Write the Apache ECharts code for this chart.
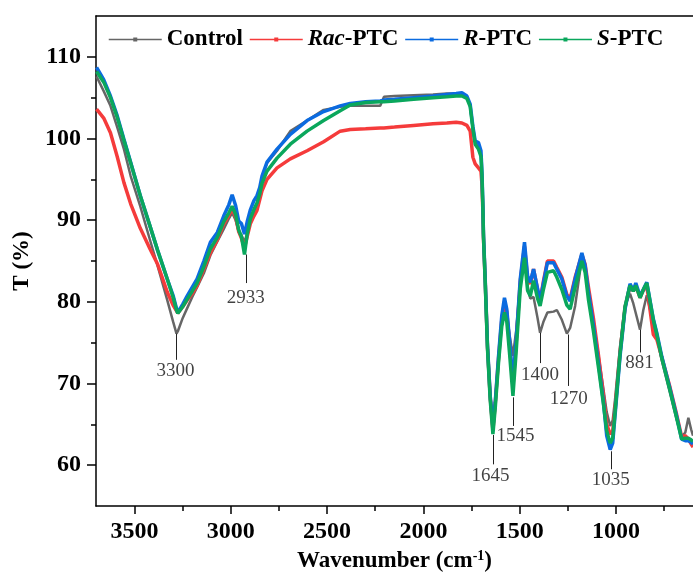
<!DOCTYPE html>
<html>
<head>
<meta charset="utf-8">
<script src="https://cdn.jsdelivr.net/npm/echarts@6/dist/echarts.min.js"></script>
<style>
html,body{margin:0;padding:0;background:#fff;}
#chart{width:693px;height:574px;}
</style>
</head>
<body>
<div id="chart"></div>
<script>
// wavenumber grid (cm-1), shared by all four spectra
var wn = [3697,3660,3625,3590,3555,3520,3470,3420,3380,3330,
  3300,3282,3275,3250,3227,3200,3175,3140,3106,3070,
  3037,3010,2993,2975,2959,2945,2929,2915,2898,2880,
  2864,2850,2838,2812,2760,2691,2604,2518,2432,2380,
  2300,2224,2205,2150,2051,1950,1878,1830,1800,1774,
  1757,1743,1731,1714,1701,1696,1691,1688,1679,1667,
  1653,1639,1627,1610,1593,1579,1567,1553,1535,1518,
  1497,1475,1459,1445,1428,1407,1394,1376,1356,1324,
  1307,1281,1255,1238,1212,1177,1160,1143,1117,1091,
  1065,1048,1030,1017,1005,979,953,927,910,897,
  875,858,840,806,788,762,719,685,659,640,
  624,610,600];

var control = [107.6,105.8,104.0,101.4,98.7,95.4,91.7,87.6,84.4,80.2,
  77.6,76.1,76.4,78.0,79.2,80.6,81.8,83.5,85.7,87.4,
  88.9,90.2,90.9,90.0,88.6,88.2,87.3,88.4,90.0,91.0,
  92.0,93.8,95.2,97.0,98.5,100.9,102.2,103.5,103.9,104.0,
  104.0,104.0,105.1,105.2,105.3,105.4,105.5,105.5,105.4,105.0,
  104.0,101.0,99.5,98.9,98.0,95.6,91.5,88.0,82.8,74.8,
  68.8,65.2,67.8,73.0,77.6,79.6,78.6,76.0,73.4,76.5,
  82.4,86.3,82.0,80.4,80.6,78.0,76.2,77.6,78.7,78.8,
  79.0,77.8,76.1,76.8,79.5,85.4,84.2,81.4,77.6,73.5,
  69.3,66.5,64.8,65.5,68.0,74.5,79.6,81.0,79.8,78.6,
  76.6,79.0,80.8,77.3,75.8,72.8,68.8,65.6,63.5,64.0,
  65.8,64.4,63.6];

var racPTC = [103.6,102.5,100.7,97.8,94.6,92.0,89.0,86.5,84.6,81.2,
  79.6,78.9,78.6,79.4,80.2,81.0,82.0,84.0,86.0,87.6,
  89.5,90.6,91.4,90.4,88.6,87.8,86.6,88.0,89.6,90.5,
  91.2,92.5,93.6,95.0,96.4,97.5,98.5,99.6,100.9,101.1,
  101.2,101.3,101.3,101.4,101.6,101.8,101.9,102.0,101.9,101.6,
  100.9,97.7,96.9,96.4,96.0,94.4,91.0,87.8,82.6,74.4,
  68.3,64.3,67.5,73.0,77.8,80.0,78.8,75.0,69.6,75.0,
  82.5,86.8,82.8,82.2,84.0,81.5,80.2,82.6,85.0,85.0,
  84.2,83.0,80.9,80.4,83.0,85.8,84.6,81.8,78.0,73.5,
  68.5,65.0,63.8,64.2,66.8,73.8,79.3,82.0,81.3,82.0,
  80.5,81.4,82.0,76.0,75.4,73.2,69.5,66.2,63.5,63.6,
  63.2,62.6,62.2];

var rPTC = [108.7,107.2,105.2,102.8,99.9,97.1,93.0,89.3,86.3,82.8,
  80.8,79.2,78.7,79.7,80.7,81.8,82.8,85.0,87.3,88.5,
  90.5,91.9,93.1,91.8,89.9,89.6,88.3,89.8,91.3,92.4,
  93.0,94.0,95.4,97.1,98.7,100.5,102.2,103.3,104.0,104.3,
  104.5,104.6,104.7,104.8,105.0,105.2,105.4,105.5,105.6,105.2,
  104.2,101.5,99.7,99.5,98.5,96.0,91.9,88.3,82.8,74.6,
  68.5,64.6,67.7,73.3,78.3,80.5,79.1,75.4,70.1,75.4,
  82.8,87.3,83.2,82.4,84.0,81.6,80.1,82.4,84.8,84.8,
  84.0,82.8,80.7,80.1,82.8,86.0,84.4,81.2,77.1,72.5,
  67.7,63.6,61.9,62.7,66.0,73.3,79.1,82.2,81.4,82.3,
  80.7,81.5,82.4,77.9,76.2,73.3,69.3,66.0,63.2,63.0,
  63.0,62.8,62.6];

var sPTC = [108.2,106.9,105.0,102.6,99.8,97.0,93.0,89.3,86.3,82.8,
  80.6,79.0,78.6,79.4,80.3,81.3,82.3,84.3,86.5,87.9,
  89.8,90.9,91.7,90.7,88.8,88.0,85.8,88.3,90.2,91.3,
  92.1,93.2,94.5,96.0,97.6,99.3,100.9,102.2,103.4,104.1,
  104.4,104.5,104.5,104.6,104.8,105.0,105.1,105.2,105.2,104.9,
  103.9,101.2,99.3,98.7,97.8,95.6,91.5,88.0,82.4,74.2,
  68.0,63.8,67.0,72.5,77.0,78.7,77.6,73.8,68.5,74.0,
  81.6,85.4,81.4,80.7,82.6,80.4,79.5,81.6,83.6,83.8,
  83.0,81.5,79.6,79.1,81.8,85.0,83.6,80.3,76.4,72.0,
  67.5,64.2,62.7,63.3,66.4,73.6,79.4,82.0,81.3,82.0,
  80.5,81.5,82.3,77.8,76.0,73.1,69.1,65.8,63.2,63.3,
  63.3,63.1,62.9];

// peak annotations
var annoLabels = ['3300','2933','1645','1545','1400','1270','1035','881'];
var annoLineX = [3282,2922,1636,1535,1394,1247,1027,875];
var annoLineTop = [76.1,85.8,63.7,68.3,76.2,76.0,61.7,76.6];
var annoLineBottom = [72.9,82.3,60.1,64.8,72.5,69.7,59.5,73.8];
var annoTextX = [3287,2922,1651,1522,1394,1245,1027,878];
var annoTextY = [71.5,80.5,58.7,63.6,71.1,68.1,58.2,72.5];

var xMajor = [1000,1500,2000,2500,3000,3500];
var xMinor = [750,1250,1750,2250,2750,3250];
var yMajor = [60,70,80,90,100,110];
var yMinor = [65,75,85,95,105];

var names = ['Control','Rac-PTC','R-PTC','S-PTC'];
var colors = ['#666666','#f53b3b','#0b6be0','#0aa75c'];
var values = [control, racPTC, rPTC, sPTC];

var FONT = 'Liberation Serif';

function pairs(ys){
  var out=[];
  for(var i=0;i<wn.length;i++){ out.push([wn[i], ys[i]]); }
  return out;
}

var series=[];
for(var k=0;k<4;k++){
  series.push({
    name: names[k],
    type: 'line',
    data: pairs(values[k]),
    symbol: 'rect',
    symbolSize: 3,
    showSymbol: false,
    lineStyle: {color: colors[k], width: k==0 ? 2.5 : 3.5},
    itemStyle: {color: colors[k]},
    z: 2+k
  });
}

var annoLines=[];
var annoText=[];
for(var i=0;i<annoLabels.length;i++){
  annoLines.push([{coord:[annoLineX[i], annoLineTop[i]]},{coord:[annoLineX[i], annoLineBottom[i]]}]);
  annoText.push({name: annoLabels[i], value:[annoTextX[i], annoTextY[i]]});
}
series.push({
  type: 'line',
  data: [],
  silent: true,
  markLine: {
    silent: true,
    symbol: 'none',
    animation: false,
    label: {show: false},
    lineStyle: {color: '#222', width: 1, type: 'solid'},
    data: annoLines
  },
  z: 10
});
series.push({
  type: 'scatter',
  data: annoText,
  symbolSize: 1,
  itemStyle: {color: 'rgba(255,255,255,0)'},
  silent: true,
  label: {
    show: true,
    position: 'inside',
    formatter: '{b}',
    fontFamily: FONT,
    fontSize: 19,
    color: '#111'
  },
  z: 10
});

var chart = echarts.init(document.getElementById('chart'));
var option = {
  animation: false,
  backgroundColor: '#fff',
  grid: {left: 96, right: 0, top: 16, bottom: 68, outerBoundsMode: 'none'},
  legend: {
    data: names,
    left: 103,
    top: 23,
    itemWidth: 53,
    itemHeight: 5,
    itemGap: 6,
    lineStyle: {width: 1.5},
    textStyle: {
      fontFamily: FONT, fontSize: 23, fontWeight: 'bold', color: '#000',
      rich: {
        i: {fontFamily: FONT, fontSize: 23, fontWeight: 'bold', fontStyle: 'italic', color: '#000'},
        n: {fontFamily: FONT, fontSize: 23, fontWeight: 'bold', color: '#000'}
      }
    },
    formatter: function(name){
      if(name=='Control') return '{n|Control}';
      var p = name.split('-');
      return '{i|'+p[0]+'}{n|-'+p[1]+'}';
    }
  },
  xAxis: [{
    type: 'value',
    min: 600, max: 3700,
    inverse: true,
    position: 'bottom',
    splitLine: {show: false},
    axisLine: {show: true, onZero: false, lineStyle: {color: '#000', width: 1.5}},
    axisTick: {show: true, length: 8, customValues: xMajor, lineStyle: {color: '#000', width: 1.5}},
    axisLabel: {customValues: xMajor, margin: 14, formatter: function(v){return String(v);}, fontFamily: FONT, fontSize: 24, fontWeight: 'bold', color: '#000'},
    name: '{a|Wavenumber (cm}{s|-1}{a|)}',
    nameLocation: 'middle',
    nameGap: 28,
    nameTextStyle: {
      rich: {
        a: {fontFamily: FONT, fontSize: 23, fontWeight: 'bold', color: '#000'},
        s: {fontFamily: FONT, fontSize: 14, fontWeight: 'bold', color: '#000', verticalAlign: 'top', padding: [0,0,10,0]}
      }
    }
  },{
    type: 'value',
    min: 600, max: 3700,
    inverse: true,
    position: 'bottom',
    splitLine: {show: false},
    axisLine: {show: false, onZero: false},
    axisTick: {show: true, length: 5, customValues: xMinor, lineStyle: {color: '#000', width: 1.5}},
    axisLabel: {show: false}
  },{
    type: 'value',
    min: 600, max: 3700,
    inverse: true,
    position: 'top',
    splitLine: {show: false},
    axisLine: {show: true, onZero: false, lineStyle: {color: '#000', width: 1.5}},
    axisTick: {show: false},
    axisLabel: {show: false}
  }],
  yAxis: [{
    type: 'value',
    min: 55, max: 115,
    position: 'left',
    splitLine: {show: false},
    axisLine: {show: true, onZero: false, lineStyle: {color: '#000', width: 1.5}},
    axisTick: {show: true, length: 9, customValues: yMajor, lineStyle: {color: '#000', width: 1.5}},
    axisLabel: {customValues: yMajor, margin: 15, fontFamily: FONT, fontSize: 24, fontWeight: 'bold', color: '#000'},
    name: 'T (%)',
    nameLocation: 'middle',
    nameGap: 62,
    nameRotate: 90,
    nameTextStyle: {fontFamily: FONT, fontSize: 23, fontWeight: 'bold', color: '#000'}
  },{
    type: 'value',
    min: 55, max: 115,
    position: 'left',
    splitLine: {show: false},
    axisLine: {show: false, onZero: false},
    axisTick: {show: true, length: 5, customValues: yMinor, lineStyle: {color: '#000', width: 1.5}},
    axisLabel: {show: false}
  }],
  series: series
};
chart.setOption(option);
</script>
</body>
</html>
